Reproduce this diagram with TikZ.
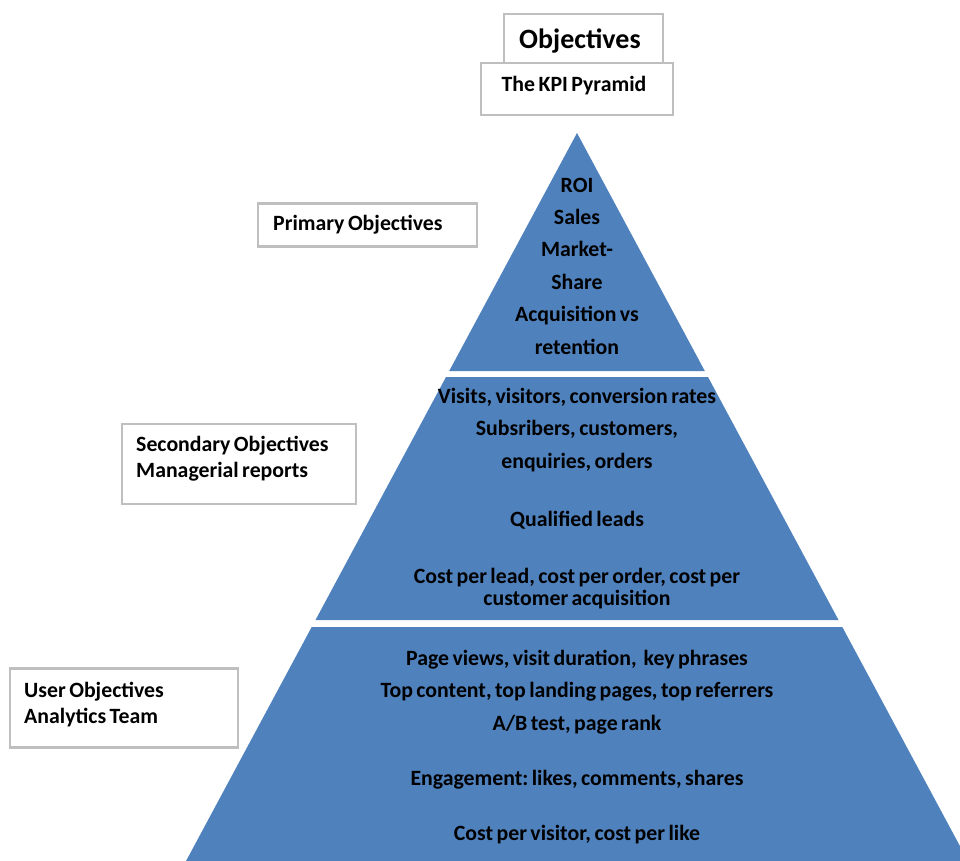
\documentclass[tikz,border=0pt]{standalone}
\usepackage{fontspec}
\setmainfont[WordSpace=0.7]{Carlito}
\frenchspacing
\definecolor{kpiblue}{HTML}{4F81BD}
\definecolor{boxgray}{HTML}{BFBFBF}
\begin{document}
\begin{tikzpicture}[x=1pt,y=-1pt,
  tierfill/.style={fill=kpiblue},
  framebox/.style={draw=boxgray, line width=2.2pt, fill=white, inner sep=0pt},
  body/.style={font=\bfseries\fontsize{21.8}{32.4}\selectfont, align=center, inner sep=0pt, text=black},
  tight/.style={font=\bfseries\fontsize{21.8}{22}\selectfont, align=center, inner sep=0pt, text=black},
  side/.style={font=\bfseries\fontsize{21.8}{26}\selectfont, align=left, inner sep=0pt, anchor=west, text=black},
]
\useasboundingbox (0,0) rectangle (960,861);

% --- pyramid: three bands separated by thin white gaps
\begin{scope}
  \clip (0,0) rectangle (960,861);
  \fill[tierfill] (577,133) -- (704.8,371) -- (449.2,371) -- cycle;
  \fill[tierfill] (446,377) -- (708,377) -- (838.5,620) -- (315.5,620) -- cycle;
  \fill[tierfill] (311.7,627) -- (842.3,627) -- (988.9,900) -- (165.1,900) -- cycle;
\end{scope}

% --- title boxes
\node[framebox, minimum width=159, minimum height=56] (obj) at (583.5,42) {};
\node[font=\bfseries\fontsize{28}{32}\selectfont, inner sep=0pt] (objtxt) at (580,41) {Objectives};
\node[framebox, minimum width=192, minimum height=52] (kpi) at (577,89) {};
\node[font=\bfseries\fontsize{21.8}{24}\selectfont, inner sep=0pt] (kpitxt) at (574,86) {The KPI Pyramid};

% --- tier texts
\node[body] (t1) at (577,266) {ROI\\Sales\\Market-\\Share\\Acquisition vs\\retention};
\node[body] (t2a) at (577,430) {Visits, visitors, conversion rates\\Subsribers, customers,\\enquiries, orders};
\node[body] (t2b) at (577,520) {Qualified leads};
\node[tight] (t2c) at (577,589) {Cost per lead, cost per order, cost per\\customer acquisition};
\node[body] (t3a) at (577,692) {Page views, visit duration,\ \ key phrases\\Top content, top landing pages, top referrers\\A/B test, page rank};
\node[body] (t3b) at (577,780) {Engagement: likes, comments, shares};
\node[body] (t3c) at (577,835) {Cost per visitor, cost per like};

% --- side labels
\node[framebox, minimum width=219, minimum height=43] (pbox) at (367.5,225) {};
\node[side] (ptxt) at (273,225) {Primary Objectives};
\node[framebox, minimum width=234, minimum height=80] (sbox) at (239,464) {};
\node[side] (stxt) at (136,459) {Secondary Objectives\\Managerial reports};
\node[framebox, minimum width=228, minimum height=79] (ubox) at (124,708) {};
\node[side] (utxt) at (24,705) {User Objectives\\Analytics Team};
\end{tikzpicture}
\end{document}
